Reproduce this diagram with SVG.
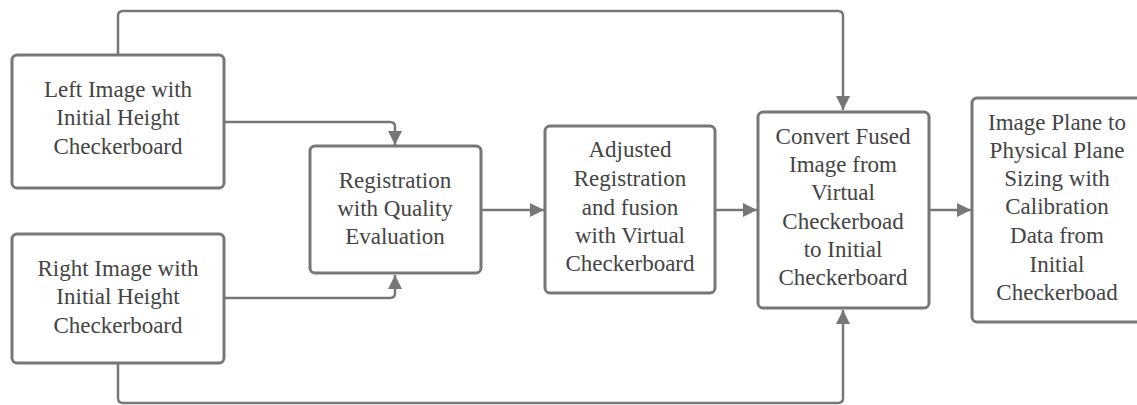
<svg xmlns="http://www.w3.org/2000/svg" width="1137" height="405" viewBox="0 0 1137 405">
<style>
.box{fill:#fff;stroke:#777;stroke-width:3}
.t{font-family:"Liberation Serif",serif;font-size:23px;fill:#444;text-anchor:middle}
.c{fill:none;stroke:#777;stroke-width:2.5}
</style>
<defs>
<marker id="ah" viewBox="0 0 10 10" refX="10" refY="5" markerWidth="14" markerHeight="14" markerUnits="userSpaceOnUse" orient="auto">
<path d="M0,0 L10,5 L0,10 z" fill="#777"/>
</marker>
</defs>
<rect width="1137" height="405" fill="#fff"/>
<g id="connectors">
<path class="c" d="M118,55 V16 Q118,11 123,11 H838 Q843,11 843,16 V110" marker-end="url(#ah)"/>
<path class="c" d="M118,363 V398 Q118,403 123,403 H838 Q843,403 843,398 V310" marker-end="url(#ah)"/>
<path class="c" d="M224,122 H390 Q395,122 395,127 V145" marker-end="url(#ah)"/>
<path class="c" d="M224,298 H390 Q395,298 395,293 V275" marker-end="url(#ah)"/>
<path class="c" d="M481,210 H544" marker-end="url(#ah)"/>
<path class="c" d="M715,210 H757" marker-end="url(#ah)"/>
<path class="c" d="M929,210 H971" marker-end="url(#ah)"/>
</g>
<g id="left">
<rect class="box" x="12" y="55" width="212" height="133" rx="5"/>
<text class="t" x="118" y="97">Left Image with</text>
<text class="t" x="118" y="125">Initial Height</text>
<text class="t" x="118" y="154">Checkerboard</text>
</g>
<g id="right">
<rect class="box" x="12" y="234" width="212" height="129" rx="5"/>
<text class="t" x="118" y="276">Right Image with</text>
<text class="t" x="118" y="304">Initial Height</text>
<text class="t" x="118" y="333">Checkerboard</text>
</g>
<g id="registration">
<rect class="box" x="310" y="146" width="171" height="127" rx="5"/>
<text class="t" x="395" y="188">Registration</text>
<text class="t" x="395" y="216">with Quality</text>
<text class="t" x="395" y="244">Evaluation</text>
</g>
<g id="adjusted">
<rect class="box" x="545" y="126" width="170" height="167" rx="5"/>
<text class="t" x="630" y="157">Adjusted</text>
<text class="t" x="630" y="186">Registration</text>
<text class="t" x="630" y="215">and fusion</text>
<text class="t" x="630" y="243">with Virtual</text>
<text class="t" x="630" y="271">Checkerboard</text>
</g>
<g id="convert">
<rect class="box" x="758" y="112" width="171" height="196" rx="5"/>
<text class="t" x="843" y="144">Convert Fused</text>
<text class="t" x="843" y="172">Image from</text>
<text class="t" x="843" y="200">Virtual</text>
<text class="t" x="843" y="229">Checkerboad</text>
<text class="t" x="843" y="257">to Initial</text>
<text class="t" x="843" y="285">Checkerboard</text>
</g>
<g id="sizing">
<rect class="box" x="972" y="98" width="180" height="224" rx="5"/>
<text class="t" x="1057" y="130">Image Plane to</text>
<text class="t" x="1057" y="158">Physical Plane</text>
<text class="t" x="1057" y="186">Sizing with</text>
<text class="t" x="1057" y="214">Calibration</text>
<text class="t" x="1057" y="243">Data from</text>
<text class="t" x="1057" y="272">Initial</text>
<text class="t" x="1057" y="300">Checkerboad</text>
</g>
</svg>
